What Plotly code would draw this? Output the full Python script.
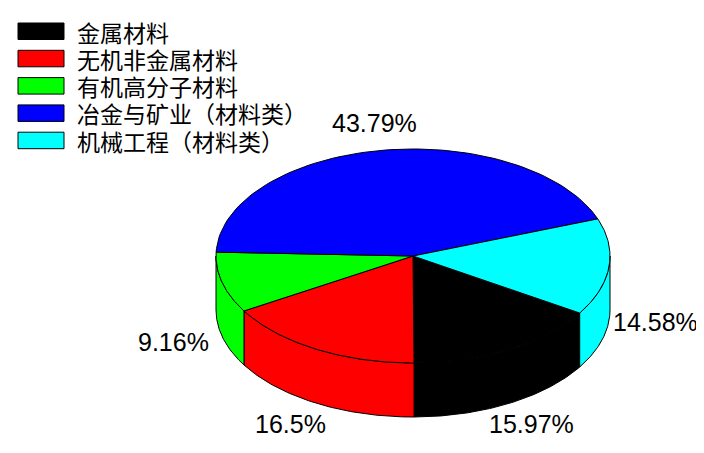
import numpy as np
import plotly.graph_objects as go

# 数据
categories = ["金属材料", "无机非金属材料", "有机高分子材料", "冶金与矿业（材料类）", "机械工程（材料类）"]
percents = [15.97, 16.5, 9.16, 43.79, 14.58]
pct_labels = ["15.97%", "16.5%", "9.16%", "43.79%", "14.58%"]
colors = ["#000000", "#ff0000", "#00ff00", "#0000ff", "#00ffff"]

# 3D 饼图的几何参数（像素坐标）
cx, cy = 413, 256
rx, ry = 197, 107
depth = 54
start_deg = -32.2   # 第一块的起始角，顺时针排列
label_k = 1.24
off = 8             # 页面 body 的默认边距


def arc(a0, a1, n=80):
    t = np.radians(np.linspace(a0, a1, n))
    return cx + rx * np.cos(t), cy - ry * np.sin(t)


fig = go.Figure()

# 扇区角度（归一化到 -180 ~ 180 附近）
bounds = []
a = start_deg
for p in percents:
    b = a - p * 3.6
    if a <= -180:
        bounds.append((a + 360, b + 360))
    else:
        bounds.append((a, b))
    a = b

# --- 侧面（只画前半部分，角度在 -180 ~ 0 之间） ---
for (a0, a1), col in zip(bounds, colors):
    s0 = min(a0, 0)
    s1 = max(a1, -180)
    if s0 <= s1:
        continue
    x, y = arc(s0, s1)
    xs = np.concatenate([x, x[::-1], x[:1]])
    ys = np.concatenate([y, y[::-1] + depth, y[:1]])
    fig.add_trace(go.Scatter(x=xs, y=ys, mode="lines", fill="toself",
                             fillcolor=col, line=dict(color="black", width=1),
                             hoverinfo="skip", showlegend=False))

# --- 顶面 ---
for (a0, a1), col, cat in zip(bounds, colors, categories):
    x, y = arc(a0, a1)
    xs = np.concatenate([[cx], x, [cx]])
    ys = np.concatenate([[cy], y, [cy]])
    fig.add_trace(go.Scatter(x=xs, y=ys, mode="lines", fill="toself",
                             fillcolor=col, line=dict(color="black", width=1),
                             name=cat, hoverinfo="name", showlegend=False))

# --- 百分比标签 ---
for (a0, a1), txt in zip(bounds, pct_labels):
    m = np.radians((a0 + a1) / 2)
    lx = cx + label_k * rx * np.cos(m) - (3 if np.cos(m) < -0.4 else 0)
    ly = cy - label_k * ry * np.sin(m) + (depth if np.sin(m) < 0 else 0) - 1.5
    fig.add_annotation(x=lx, y=ly, text=txt, showarrow=False,
                       xanchor="center", yanchor="middle",
                       font=dict(family="Liberation Sans, Arial", size=25, color="black"))

# --- 图例（手绘方块 + 文字） ---
for i, (cat, col) in enumerate(zip(categories, colors)):
    y0 = 23 + i * 27.3
    fig.add_shape(type="rect", x0=18, x1=64, y0=y0, y1=y0 + 16.5,
                  fillcolor=col, line=dict(color="black", width=1))
    fig.add_annotation(x=75, y=y0 + 8.5, text=cat, showarrow=False,
                       xanchor="left", yanchor="middle", height=26, valign="middle",
                       font=dict(family="Noto Sans CJK SC", size=23, color="black"))

fig.update_layout(
    width=704, height=453, autosize=False,
    margin=dict(l=0, r=0, t=0, b=0),
    paper_bgcolor="white", plot_bgcolor="white",
    xaxis=dict(range=[off, 704 + off], visible=False, fixedrange=True),
    yaxis=dict(range=[453 + off, off], visible=False, fixedrange=True),
)

fig.write_html("out.html")
